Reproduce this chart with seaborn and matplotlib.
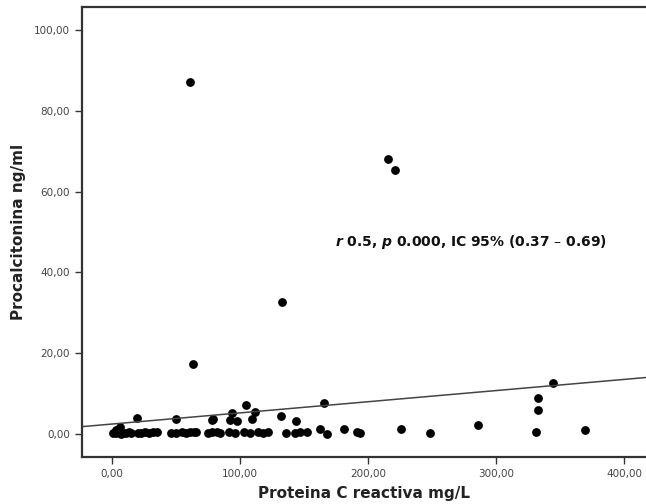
import matplotlib
matplotlib.use("Agg")
import matplotlib.pyplot as plt
import seaborn as sns
import numpy as np
import pandas as pd
from matplotlib.ticker import FuncFormatter

# Data: PCR (mg/L) vs Procalcitonina (ng/ml)
pcr = [1, 3, 5, 7, 9, 11, 13, 15, 6, 3,
       20, 23, 26, 29, 32, 35, 19.3,
       46, 50, 55, 58, 61, 64, 66, 50,
       75, 78, 82, 84, 78, 79,
       91, 96, 92, 93.5, 97.4,
       103, 108, 105, 109, 112,
       114, 118, 122,
       132, 136, 144,
       143, 147, 152,
       162.5, 165.6, 168,
       181, 191, 194,
       226, 248, 286,
       331, 333, 333, 344, 369.5,
       61, 63, 133, 215.6, 221]
pct = [0.3, 0.2, 0.4, 0.1, 0.3, 0.2, 0.4, 0.3, 1.7, 1.0,
       0.3, 0.2, 0.4, 0.3, 0.5, 0.4, 4.0,
       0.3, 0.2, 0.4, 0.3, 0.5, 0.4, 0.6, 3.7,
       0.3, 0.5, 0.4, 0.3, 3.5, 3.7,
       0.4, 0.3, 3.5, 5.3, 3.3,
       0.4, 0.3, 7.2, 3.7, 5.5,
       0.4, 0.3, 0.4,
       4.5, 0.3, 3.2,
       0.3, 0.5, 0.6,
       1.2, 7.6, 0.1,
       1.2, 0.5, 0.2,
       1.2, 0.2, 2.2,
       0.5, 5.9, 8.9, 12.6, 1.0,
       87.1, 17.3, 32.7, 68.1, 65.3]

x_ticks = [0, 100, 200, 300, 400]
y_ticks = [0, 20, 40, 60, 80, 100]
annotation = r"$\mathbfit{r}$ 0.5, $\mathbfit{p}$ 0.000, IC 95% (0.37 – 0.69)"
x_label = "Proteina C reactiva mg/L"
y_label = "Procalcitonina ng/ml"

df = pd.DataFrame({"pcr": pcr, "pct": pct})

sns.set_style("white")
plt.rcParams['font.family'] = ['DejaVu Sans']

fig = plt.figure(figsize=(6.46, 5.04), dpi=100)
ax = fig.add_axes([82/646, 1 - 457/504, 1 - 82/646, (457 - 7)/504])

ax.set_xlim(-23.4, 417)
ax.set_ylim(-5.7, 105.7)

sns.regplot(data=df, x="pcr", y="pct", ax=ax, ci=None, truncate=False,
            scatter_kws=dict(s=40, color="black", edgecolor="black", linewidths=0, alpha=1),
            line_kws=dict(color="#444444", linewidth=1.1))

ax.set_xlim(-23.4, 417)
ax.set_ylim(-5.7, 105.7)
ax.set_xticks(x_ticks)
ax.set_yticks(y_ticks)
fmt = FuncFormatter(lambda v, p: f"{v:.2f}".replace(".", ","))
ax.xaxis.set_major_formatter(fmt)
ax.yaxis.set_major_formatter(fmt)
ax.tick_params(axis="both", which="major", direction="out", length=5, width=1,
               color="#333333", labelsize=7.5, labelcolor="#444444",
               bottom=True, left=True)

for s in ["left", "bottom", "top"]:
    ax.spines[s].set_color("#333333")
    ax.spines[s].set_linewidth(1.6)
ax.spines["right"].set_visible(False)

ax.set_xlabel(x_label, fontsize=11, fontweight="bold", color="#222222", labelpad=5)
ax.set_ylabel(y_label, fontsize=11, fontweight="bold", color="#222222", labelpad=6)

ax.text(174, 47.5, annotation, fontsize=10, fontweight="bold", color="#111111",
        ha="left", va="center")

fig.savefig("out.png", dpi=100)
